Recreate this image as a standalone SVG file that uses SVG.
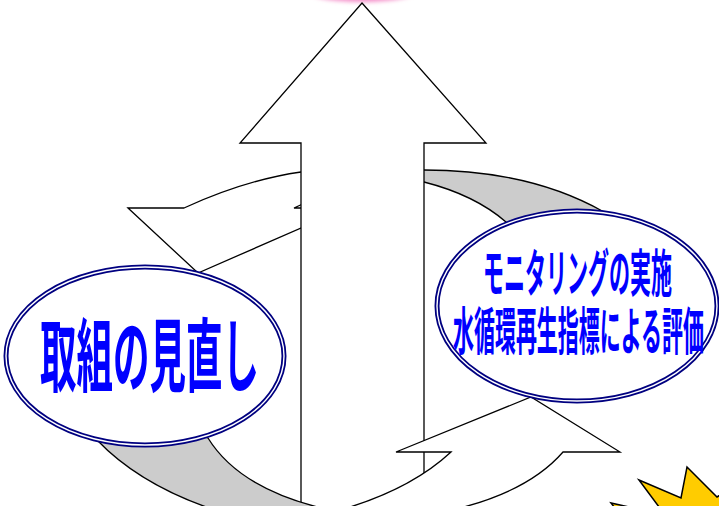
<svg xmlns="http://www.w3.org/2000/svg" width="719" height="506" viewBox="0 0 719 506">
<defs>
<style>
.ln{stroke:#000;stroke-width:1.3;stroke-linejoin:miter}
.w{fill:#fff}
.g{fill:#ccc}
.ell{fill:#fff;stroke:#000080;stroke-width:5}
.ellin{fill:none;stroke:#fff;stroke-width:1.4}
.lbl{font-family:"Noto Sans CJK JP","Noto Sans",sans-serif;font-weight:700;fill:#0000ff}
</style>
<filter id="blur" x="-50%" y="-50%" width="200%" height="200%"><feGaussianBlur stdDeviation="2"/></filter>
</defs>
<rect width="719" height="506" fill="#fff"/>
<ellipse cx="362" cy="-10" rx="56" ry="12" fill="#f48cc8" filter="url(#blur)"/>
<g id="connectors">
<path id="arrow-top-left" class="ln w" d="M128,208 L198,273 L347,208 L294,208 L320,196 L330,172 L301,172 Q245,180 184,208 Z"/>
<path id="band-top-right" class="ln g" d="M400,170 L424,170 Q530,170 604,212 L560,260 L506,222 Q475,195 424,182 L400,182 Z"/>
<path id="up-arrow" class="ln w" d="M362,3 L486,143 L424,143 L424,520 L301,520 L301,143 L240,143 Z"/>
<path id="band-bottom-left" class="ln g" d="M97,440 Q140,485 215,510 L330,510 Q240,490 208,438 L150,420 Z"/>
<path id="arrow-bottom-right" class="ln w" d="M396,452 L531,397 L620,452 L563,452 Q530,490 460,508 L340,510 Q410,490 451,452 Z"/>
</g>
<g id="node-review">
<ellipse class="ell" cx="145" cy="356" rx="139" ry="89"/>
<ellipse class="ellin" cx="145" cy="356" rx="139" ry="89"/>
<text class="lbl" x="40" y="385" font-size="80" textLength="219" lengthAdjust="spacingAndGlyphs">取組の見直し</text>
</g>
<g id="node-monitoring">
<ellipse class="ell" cx="577" cy="306" rx="140" ry="95"/>
<ellipse class="ellin" cx="577" cy="306" rx="140" ry="95"/>
<text class="lbl" x="483" y="292" font-size="51" textLength="189" lengthAdjust="spacingAndGlyphs">モニタリングの実施</text>
<text class="lbl" x="453" y="350" font-size="51" textLength="251" lengthAdjust="spacingAndGlyphs">水循環再生指標による評価</text>
</g>
<g id="star">
<polygon points="639,480 681,498 687,467 717,497 760,470 760,560 640,540 611,503 665,515" fill="#ffcc00" stroke="#000" stroke-width="1.5" stroke-linejoin="miter"/>
</g>
</svg>
